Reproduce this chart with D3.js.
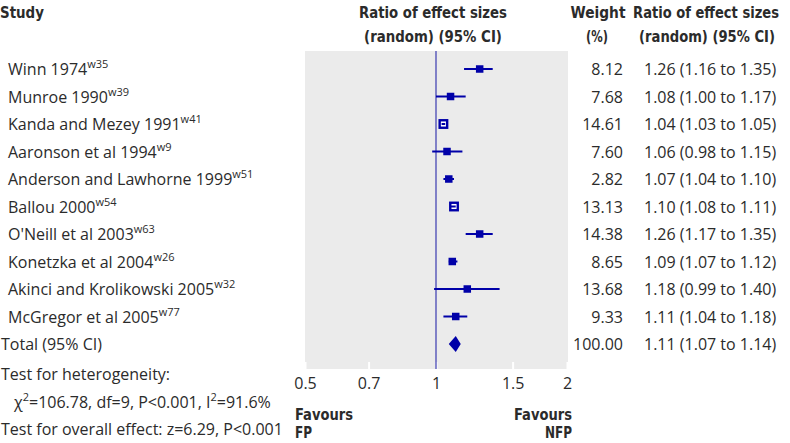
<!DOCTYPE html>
<html>
<head>
<meta charset="utf-8">
<script src="https://cdn.jsdelivr.net/npm/d3@7"></script>
<style>
  html, body { margin: 0; padding: 0; background: #fff; }
  svg { display: block; }
  .body { font-family: "Open Sans", "Noto Sans", sans-serif; font-size: 16px; fill: #2b2b2b; }
  .hdr { font-family: "DejaVu Sans Condensed", "DejaVu Sans", sans-serif; font-stretch: condensed; font-weight: bold; font-size: 16px; fill: #2b2b2b; }
  .fav { font-size: 15px; }
</style>
</head>
<body>
<svg id="chart" width="790" height="443"></svg>
<script>
const studies = ["Winn 1974", "Munroe 1990", "Kanda and Mezey 1991", "Aaronson et al 1994",
  "Anderson and Lawhorne 1999", "Ballou 2000", "O'Neill et al 2003", "Konetzka et al 2004",
  "Akinci and Krolikowski 2005", "McGregor et al 2005"];
const refs = ["w35", "w39", "w41", "w9", "w51", "w54", "w63", "w26", "w32", "w77"];
const ratios = [1.26, 1.08, 1.04, 1.06, 1.07, 1.10, 1.26, 1.09, 1.18, 1.11];
const lowers = [1.16, 1.00, 1.03, 0.98, 1.04, 1.08, 1.17, 1.07, 0.99, 1.04];
const uppers = [1.35, 1.17, 1.05, 1.15, 1.10, 1.11, 1.35, 1.12, 1.40, 1.18];
const weights = [8.12, 7.68, 14.61, 7.60, 2.82, 13.13, 14.38, 8.65, 13.68, 9.33];
const totalLabel = "Total (95% CI)";
const totalRatio = 1.11, totalLower = 1.07, totalUpper = 1.14, totalWeight = 100.00;
const tickValues = [0.5, 0.7, 1, 1.5, 2];
const tickLabels = ["0.5", "0.7", "1", "1.5", "2"];
const heteroTitle = "Test for heterogeneity:";
const overallLine = "Test for overall effect: z=6.29, P<0.001";

const svg = d3.select("#chart");
const blue = "#0000a8";

const x = d3.scaleLog().domain([0.5, 2]).range([305, 567]);
const rows = d3.range(studies.length + 1);
const y = d3.scalePoint().domain(rows).range([69, 344]);

const panelTop = 51, panelBottom = 369;
const f2 = d3.format(".2f");

// Condensed bold text: draw at natural size, then squeeze horizontally to the target width
function squeezed(cls, txt, xx, yy, len, anchor) {
  const t = svg.append("text").attr("class", cls).attr("x", 0).attr("y", 0)
    .attr("text-anchor", anchor || "middle").text(txt);
  const w = t.node().getComputedTextLength() || len;
  t.attr("transform", `translate(${xx},${yy}) scale(${len / w},1)`);
  return t;
}

// Headers
squeezed("hdr", "Study", 0, 18, 44, "start");
const hx = (x(0.5) + x(2)) / 2 - 3;
squeezed("hdr", "Ratio of effect sizes", hx, 18, 148);
squeezed("hdr", "(random) (95% CI)", hx, 42, 138);
squeezed("hdr", "Weight", 598, 18, 55);
squeezed("hdr", "(%)", 597, 42, 22);
squeezed("hdr", "Ratio of effect sizes", 706, 18, 146);
squeezed("hdr", "(random) (95% CI)", 707, 42, 136);

// Panel
svg.append("rect").attr("x", x(0.5)).attr("y", panelTop)
  .attr("width", x(2) - x(0.5) + 1).attr("height", panelBottom - panelTop).attr("fill", "#ebebeb");

// Axis ticks (white, inside panel bottom)
const axis = d3.axisBottom(x).tickValues(tickValues).tickFormat((d, i) => tickLabels[i])
  .tickSizeInner(-7).tickSizeOuter(0).tickPadding(20);
const ag = svg.append("g").attr("transform", `translate(0,${panelBottom})`).call(axis);
ag.select(".domain").remove();
ag.selectAll(".tick line").attr("stroke", "#fff").attr("stroke-width", 2);
ag.selectAll(".tick text").attr("fill", "#2b2b2b").attr("dy", "0")
  .style("font-family", '"Open Sans", "Noto Sans", sans-serif').style("font-size", "16px");

// Reference line at 1
svg.append("line").attr("x1", x(1)).attr("x2", x(1)).attr("y1", panelTop).attr("y2", panelBottom)
  .attr("stroke", "#3a3ab0").attr("stroke-width", 1.2);

// Study rows
const data = studies.map((s, i) => ({ s, ref: refs[i], r: ratios[i], lo: lowers[i], up: uppers[i], w: weights[i], i }));
const sq = 7.5;

const rowsG = svg.append("g").selectAll("g").data(data).join("g");
rowsG.each(function (d) {
  const g = d3.select(this);
  const cy = y(d.i);
  const hollow = (x(d.up) - x(d.lo)) < sq;
  if (hollow) {
    g.append("rect").attr("x", x(d.r) - sq / 2).attr("y", cy - sq / 2).attr("width", sq).attr("height", sq)
      .attr("fill", "#fff").attr("stroke", blue).attr("stroke-width", 2.4);
    g.append("line").attr("x1", x(d.lo)).attr("x2", x(d.up)).attr("y1", cy).attr("y2", cy)
      .attr("stroke", blue).attr("stroke-width", 2);
  } else {
    g.append("line").attr("x1", x(d.lo)).attr("x2", x(d.up)).attr("y1", cy).attr("y2", cy)
      .attr("stroke", blue).attr("stroke-width", 2);
    g.append("rect").attr("x", x(d.r) - sq / 2).attr("y", cy - sq / 2).attr("width", sq).attr("height", sq)
      .attr("fill", blue);
  }
  const t = g.append("text").attr("class", "body").attr("x", 8).attr("y", cy + 6);
  t.append("tspan").text(d.s);
  t.append("tspan").attr("dy", -7).style("font-size", "11px").text(d.ref);
  g.append("text").attr("class", "body").attr("x", 623).attr("y", cy + 6).attr("text-anchor", "end").text(f2(d.w));
  g.append("text").attr("class", "body").attr("x", 644).attr("y", cy + 6)
    .text(`${f2(d.r)} (${f2(d.lo)} to ${f2(d.up)})`);
});

// Total
const ty = y(studies.length);
svg.append("path")
  .attr("d", d3.line()([[x(totalLower), ty], [x(totalRatio), ty - 8], [x(totalUpper), ty], [x(totalRatio), ty + 8]]) + "Z")
  .attr("fill", blue);
svg.append("text").attr("class", "body").attr("x", 1).attr("y", ty + 6).text(totalLabel);
svg.append("text").attr("class", "body").attr("x", 623).attr("y", ty + 6).attr("text-anchor", "end").text(f2(totalWeight));
svg.append("text").attr("class", "body").attr("x", 644).attr("y", ty + 6)
  .text(`${f2(totalRatio)} (${f2(totalLower)} to ${f2(totalUpper)})`);

// Bottom stats
svg.append("text").attr("class", "body").attr("x", 1).attr("y", 380).text(heteroTitle);
const chi = svg.append("text").attr("class", "body").attr("x", 14).attr("y", 408);
chi.append("tspan").text("χ");
chi.append("tspan").attr("dy", -7).style("font-size", "11px").text("2");
chi.append("tspan").attr("dy", 7).text("=106.78, df=9, P<0.001, I");
chi.append("tspan").attr("dy", -7).style("font-size", "11px").text("2");
chi.append("tspan").attr("dy", 7).text("=91.6%");
svg.append("text").attr("class", "body").attr("x", 1).attr("y", 435).text(overallLine);

// Favours labels
squeezed("hdr fav", "Favours", 295, 420, 58, "start");
squeezed("hdr fav", "FP", 295, 438, 17, "start");
squeezed("hdr fav", "Favours", 572, 420, 58, "end");
squeezed("hdr fav", "NFP", 572, 438, 27, "end");
</script>
</body>
</html>
